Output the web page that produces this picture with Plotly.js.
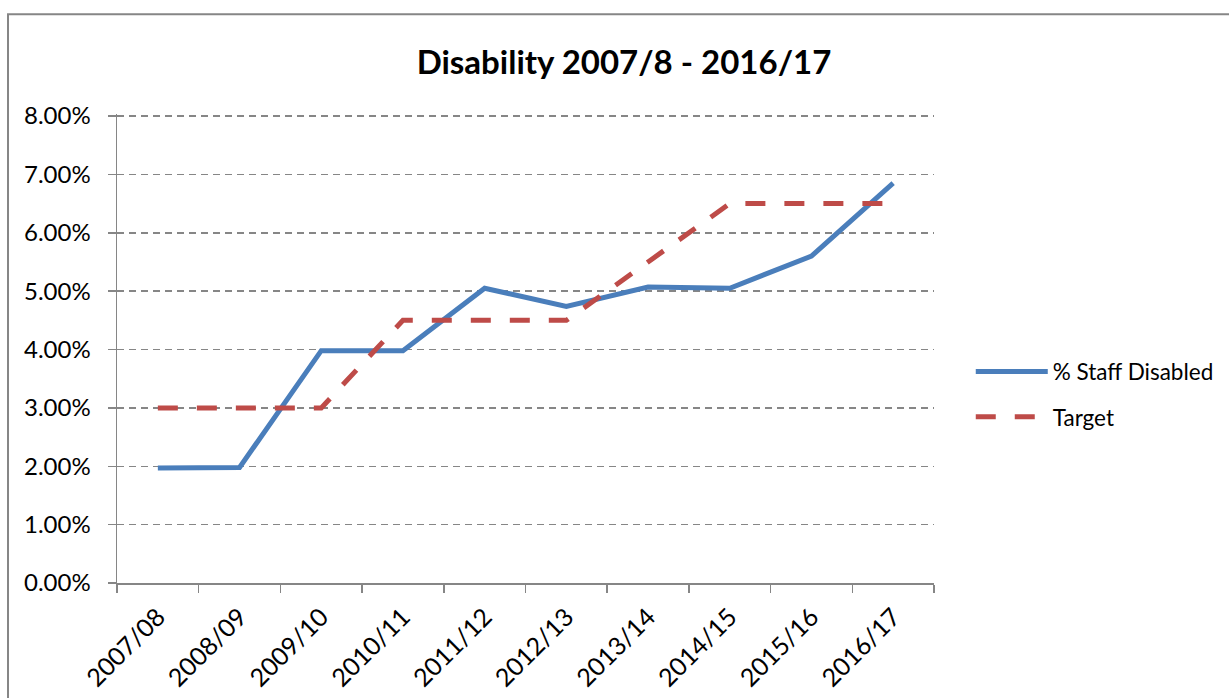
<!DOCTYPE html>
<html>
<head>
<meta charset="utf-8">
<script src="https://cdn.plot.ly/plotly-3.0.1.min.js"></script>
<style>
  html, body { margin: 0; padding: 0; background: #fff; }
  #chart { width: 1229px; height: 698px; }
</style>
</head>
<body>
<div id="chart"></div>
<script>
const years = ["2007/08", "2008/09", "2009/10", "2010/11", "2011/12", "2012/13", "2013/14", "2014/15", "2015/16", "2016/17"];
const staffDisabled = [1.97, 1.98, 3.98, 3.98, 5.05, 4.74, 5.07, 5.05, 5.60, 6.85];
const target = [3.0, 3.0, 3.0, 4.5, 4.5, 4.5, 5.5, 6.5, 6.5, 6.5];
const yTicks = [0, 1, 2, 3, 4, 5, 6, 7, 8];

const FONT = "Lato, 'Open Sans', sans-serif";
const GRID = "#868686";

const traces = [
  {
    x: years, y: staffDisabled, type: "scatter", mode: "lines",
    name: "% Staff Disabled", legendgroup: "a",
    line: { color: "#4A7EBB", width: 5 }
  },
  {
    x: years, y: target, type: "scatter", mode: "lines",
    name: "Target", legendgroup: "b",
    line: { color: "#BE4B48", width: 5, dash: "20px,19px" }
  }
];

const layout = {
  width: 1229, height: 698,
  margin: { l: 117, r: 295, t: 114, b: 115, autoexpand: false },
  paper_bgcolor: "#ffffff", plot_bgcolor: "#ffffff",
  font: { family: FONT, color: "#000000", size: 24 },
  title: {
    text: "<b>Disability 2007/8 - 2016/17</b>",
    font: { family: FONT, size: 33, color: "#000000" },
    x: 0.5077, xref: "container", xanchor: "center",
    y: 0.911, yref: "container", yanchor: "middle"
  },
  showlegend: true,
  legend: {
    x: 1.045, xanchor: "left", y: 0.402, yanchor: "middle",
    font: { family: FONT, size: 22.5, color: "#000000" },
    itemwidth: 72, tracegroupgap: 13,
    bgcolor: "rgba(0,0,0,0)"
  },
  xaxis: {
    type: "category", range: [-0.5, 9.5], automargin: false,
    showgrid: false, zeroline: false,
    showline: true, linecolor: GRID, linewidth: 1.5,
    ticks: "outside", tickson: "boundaries", ticklen: 8, tickcolor: GRID, tickwidth: 1.5,
    tickangle: -45, ticklabelstandoff: 8,
    tickfont: { family: FONT, size: 25, color: "#000000" },
    fixedrange: true
  },
  yaxis: {
    range: [0, 8.035], automargin: false,
    tickvals: yTicks, ticktext: yTicks.map(v => v.toFixed(2) + "%"),
    showgrid: true, gridcolor: GRID, gridwidth: 1.5, griddash: "7px,5px",
    zeroline: false,
    showline: true, linecolor: GRID, linewidth: 1.5,
    ticks: "outside", ticklen: 8, tickcolor: GRID, tickwidth: 1.5,
    ticklabelstandoff: 12,
    tickfont: { family: FONT, size: 24, color: "#000000" },
    fixedrange: true
  },
  shapes: [
    {
      type: "rect", xref: "paper", yref: "paper",
      x0: -0.1334, x1: 1.45, y0: -0.35, y1: 1.2125,
      line: { color: "#868686", width: 2 }, fillcolor: "rgba(0,0,0,0)", layer: "below"
    }
  ]
};

Plotly.newPlot("chart", traces, layout, { displayModeBar: false, staticPlot: true });
</script>
</body>
</html>
